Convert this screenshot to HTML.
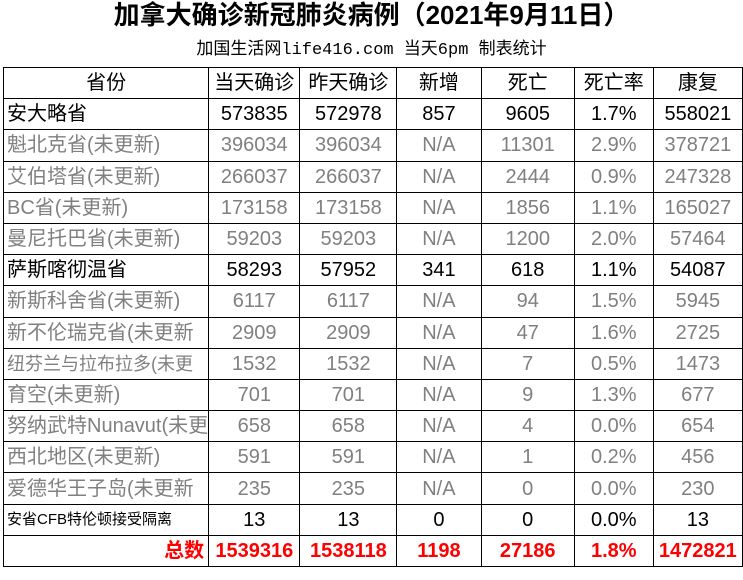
<!DOCTYPE html>
<html><head><meta charset="utf-8"><style>
body{margin:0;width:743px;height:580px;background:#fff;position:relative;overflow:hidden;font-family:"Liberation Sans","Noto Sans CJK SC",sans-serif}
.t{position:absolute;left:0;width:743px;text-align:center;top:0;font-size:26px;font-weight:bold;line-height:30px}
.s{position:absolute;left:0;width:743px;text-align:center;top:40px;font-size:17px;line-height:22px;font-family:"Liberation Mono","Noto Sans CJK SC",monospace}
table{position:absolute;left:3px;top:67px;border-collapse:collapse;table-layout:fixed}
tr{height:31.2px}
td{border:1.5px solid #000;padding:0;text-align:center;font-size:20px;white-space:nowrap;overflow:hidden;line-height:28px}
td.l{text-align:left;padding-left:3px}
tr.g td{color:#808080}
tr.r td{color:#f00;font-weight:bold}
</style></head><body>
<div class="t">加拿大确诊新冠肺炎病例（2021年9月11日）</div>
<div class="s">加国生活网life416.com 当天6pm 制表统计</div>
<table>
<colgroup><col style="width:194px"><col style="width:92px"><col style="width:98px"><col style="width:87px"><col style="width:96px"><col style="width:80px"><col style="width:90px"></colgroup>
<tr><td>省份</td><td>当天确诊</td><td>昨天确诊</td><td>新增</td><td>死亡</td><td>死亡率</td><td>康复</td></tr>
<tr><td class="l">安大略省</td><td>573835</td><td>572978</td><td>857</td><td>9605</td><td>1.7%</td><td>558021</td></tr>
<tr class="g"><td class="l">魁北克省(未更新)</td><td>396034</td><td>396034</td><td>N/A</td><td>11301</td><td>2.9%</td><td>378721</td></tr>
<tr class="g"><td class="l">艾伯塔省(未更新)</td><td>266037</td><td>266037</td><td>N/A</td><td>2444</td><td>0.9%</td><td>247328</td></tr>
<tr class="g"><td class="l">BC省(未更新)</td><td>173158</td><td>173158</td><td>N/A</td><td>1856</td><td>1.1%</td><td>165027</td></tr>
<tr class="g"><td class="l">曼尼托巴省(未更新)</td><td>59203</td><td>59203</td><td>N/A</td><td>1200</td><td>2.0%</td><td>57464</td></tr>
<tr><td class="l">萨斯喀彻温省</td><td>58293</td><td>57952</td><td>341</td><td>618</td><td>1.1%</td><td>54087</td></tr>
<tr class="g"><td class="l">新斯科舍省(未更新)</td><td>6117</td><td>6117</td><td>N/A</td><td>94</td><td>1.5%</td><td>5945</td></tr>
<tr class="g"><td class="l">新不伦瑞克省(未更新</td><td>2909</td><td>2909</td><td>N/A</td><td>47</td><td>1.6%</td><td>2725</td></tr>
<tr class="g"><td class="l" style="font-size:18px">纽芬兰与拉布拉多(未更</td><td>1532</td><td>1532</td><td>N/A</td><td>7</td><td>0.5%</td><td>1473</td></tr>
<tr class="g"><td class="l">育空(未更新)</td><td>701</td><td>701</td><td>N/A</td><td>9</td><td>1.3%</td><td>677</td></tr>
<tr class="g"><td class="l">努纳武特Nunavut(未更</td><td>658</td><td>658</td><td>N/A</td><td>4</td><td>0.0%</td><td>654</td></tr>
<tr class="g"><td class="l">西北地区(未更新)</td><td>591</td><td>591</td><td>N/A</td><td>1</td><td>0.2%</td><td>456</td></tr>
<tr class="g"><td class="l">爱德华王子岛(未更新</td><td>235</td><td>235</td><td>N/A</td><td>0</td><td>0.0%</td><td>230</td></tr>
<tr><td class="l" style="font-size:15px">安省CFB特伦顿接受隔离</td><td>13</td><td>13</td><td>0</td><td>0</td><td>0.0%</td><td>13</td></tr>
<tr class="r"><td style="text-align:right;padding-right:4px">总数</td><td>1539316</td><td>1538118</td><td>1198</td><td>27186</td><td>1.8%</td><td>1472821</td></tr>
</table>
</body></html>
